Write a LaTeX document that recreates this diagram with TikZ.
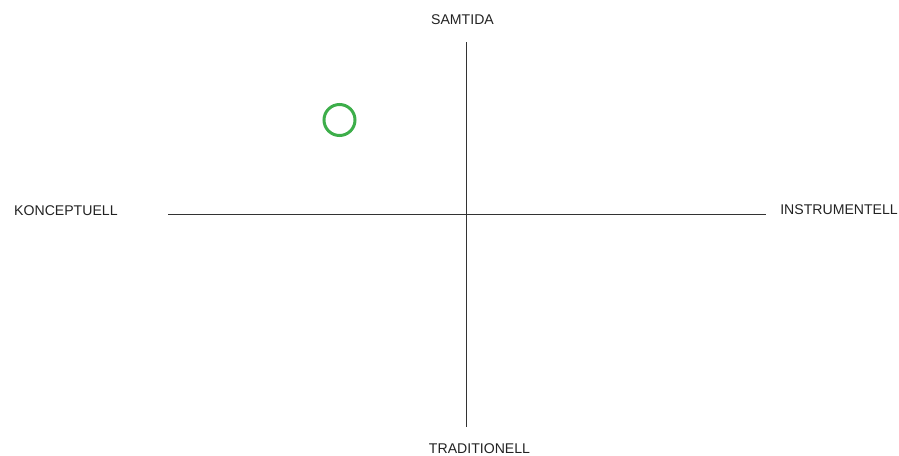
\documentclass[tikz,border=0pt]{standalone}
\usepackage{fontspec}
\setmainfont{Liberation Sans}
\usepackage{tikz}
\usetikzlibrary{positioning}
\definecolor{axisgray}{HTML}{333333}
\definecolor{textgray}{HTML}{222222}
\definecolor{markgreen}{HTML}{3DAE4A}

\begin{document}
\begin{tikzpicture}[x=1pt,y=-1pt,
  axislabel/.style={font=\fontsize{14.1}{16}\selectfont,text=textgray,inner sep=0pt,anchor=base},
  axisline/.style={draw=axisgray,line width=0.9pt}]
\useasboundingbox (0,0) rectangle (899,455);
% axis ends
\coordinate (left) at (168,214);
\coordinate (right) at (766,214);
\coordinate (top) at (466,42);
\coordinate (bottom) at (466,427);
\draw[axisline] (left) -- (right);
\draw[axisline] (top) -- (bottom);
% labels
\node[axislabel] (samtida) at (462.5,24.5) {SAMTIDA};
\node[axislabel] (traditionell) at (479.5,453.5) {TRADITIONELL};
\node[axislabel,anchor=base west] (konceptuell) at (14,215.5) {KONCEPTUELL};
\node[axislabel,anchor=base east] (instrumentell) at (898,214.5) {INSTRUMENTELL};
% marker
\node[draw=markgreen,line width=3pt,circle,minimum size=31pt,inner sep=0pt] (mark) at (339.5,120) {};
\end{tikzpicture}
\end{document}
